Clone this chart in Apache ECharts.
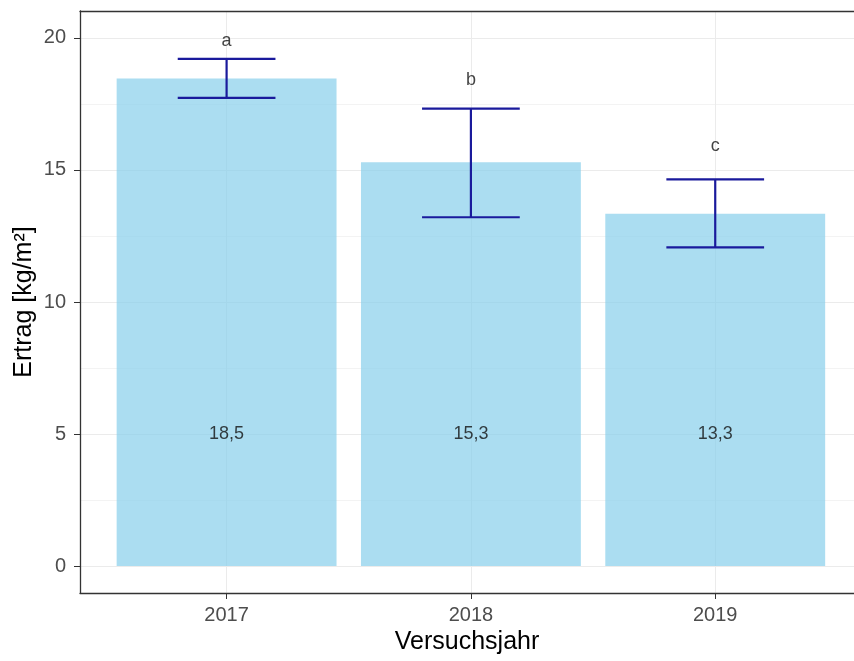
<!DOCTYPE html>
<html>
<head>
<meta charset="utf-8">
<script src="https://cdn.jsdelivr.net/npm/echarts@6/dist/echarts.min.js"></script>
<style>html,body{margin:0;padding:0;background:#fff}#c{width:854px;height:661px}</style>
</head>
<body>
<div id="c"></div>
<script>
// ---- data ----
const years = ['2017', '2018', '2019'];
const yieldMean = [18.46, 15.29, 13.34];
const errLow = [17.73, 13.21, 12.07];
const errHigh = [19.21, 17.32, 14.64];
const letters = ['a', 'b', 'c'];
const letterY = [19.9, 18.39, 15.89];
const valueLabelY = 5;
const yMajorTicks = [0, 5, 10, 15, 20];
const yMinorTicks = [2.5, 7.5, 12.5, 17.5];
const xPositions = [1, 2, 3];

const FONT = '"Liberation Sans", Arial, sans-serif';
const chart = echarts.init(document.getElementById('c'), null, {renderer: 'canvas'});

const barData = xPositions.map((x, i) => [x, yieldMean[i]]);
const errData = xPositions.map((x, i) => [x, errLow[i], errHigh[i]]);
const letterData = xPositions.map((x, i) => [x, letterY[i], letters[i]]);
const valueData = xPositions.map((x, i) => [x, valueLabelY, yieldMean[i].toFixed(1).replace('.', ',')]);

const border = {show: true, onZero: false, lineStyle: {color: '#333333', width: 1.3}};

chart.setOption({
  animation: false,
  backgroundColor: '#ffffff',
  textStyle: {fontFamily: FONT},
  grid: {left: 80, right: 0, top: 11, bottom: 68, show: false, containLabel: false},
  xAxis: [{
    type: 'value', min: 0.4, max: 3.568, position: 'bottom',
    name: 'Versuchsjahr', nameLocation: 'middle', nameGap: 33,
    nameTextStyle: {fontSize: 25, color: '#000000', fontFamily: FONT},
    axisLine: border,
    axisTick: {show: true, length: 6, lineStyle: {color: '#333333', width: 1}, customValues: xPositions},
    axisLabel: {customValues: xPositions, formatter: v => years[Math.round(v) - 1], fontSize: 20, color: '#4d4d4d', margin: 12, fontFamily: FONT},
    splitLine: {show: true, lineStyle: {color: '#ebebeb', width: 1}}
  }, {
    type: 'value', min: 0.4, max: 3.568, position: 'top',
    axisLine: border, axisTick: {show: false}, axisLabel: {show: false}, splitLine: {show: false}
  }],
  yAxis: [{
    type: 'value', min: -1.02, max: 21.02,
    name: 'Ertrag [kg/m²]', nameLocation: 'middle', nameGap: 43, nameRotate: 90,
    nameMoveOverlap: false,
    nameTextStyle: {fontSize: 25, color: '#000000', fontFamily: FONT},
    axisLine: border,
    axisTick: {show: true, length: 6, lineStyle: {color: '#333333', width: 1}, customValues: yMajorTicks},
    axisLabel: {customValues: yMajorTicks, fontSize: 20, color: '#4d4d4d', margin: 14, fontFamily: FONT},
    splitLine: {show: true, lineStyle: {color: '#ebebeb', width: 1}}
  }, {
    type: 'value', min: -1.02, max: 21.02, position: 'left',
    axisLine: {show: false},
    axisTick: {show: false, customValues: yMinorTicks},
    axisLabel: {show: false, customValues: yMinorTicks},
    splitLine: {show: true, lineStyle: {color: '#f3f3f3', width: 1}}
  }],
  series: [{
    type: 'bar', data: barData, barWidth: '90%',
    itemStyle: {color: 'rgba(135,206,235,0.7)'},
    z: 2
  }, {
    type: 'custom', data: errData, z: 5,
    renderItem: function (params, api) {
      const x = api.value(0);
      const lo = api.coord([x, api.value(1)]);
      const hi = api.coord([x, api.value(2)]);
      const half = api.size([0.4, 0])[0] / 2;
      const style = {stroke: '#1a1a9c', lineWidth: 2.2};
      return {type: 'group', children: [
        {type: 'line', shape: {x1: lo[0], y1: lo[1], x2: hi[0], y2: hi[1]}, style: style},
        {type: 'line', shape: {x1: hi[0] - half, y1: hi[1], x2: hi[0] + half, y2: hi[1]}, style: style},
        {type: 'line', shape: {x1: lo[0] - half, y1: lo[1], x2: lo[0] + half, y2: lo[1]}, style: style}
      ]};
    }
  }, {
    type: 'scatter', data: letterData, symbolSize: 0, z: 6,
    label: {show: true, position: 'inside', formatter: p => p.data[2], fontSize: 18, color: '#111111', fontFamily: FONT}
  }, {
    type: 'scatter', data: valueData, symbolSize: 0, z: 6,
    label: {show: true, position: 'inside', formatter: p => p.data[2], fontSize: 18, color: '#111111', fontFamily: FONT}
  }]
});
</script>
</body>
</html>
